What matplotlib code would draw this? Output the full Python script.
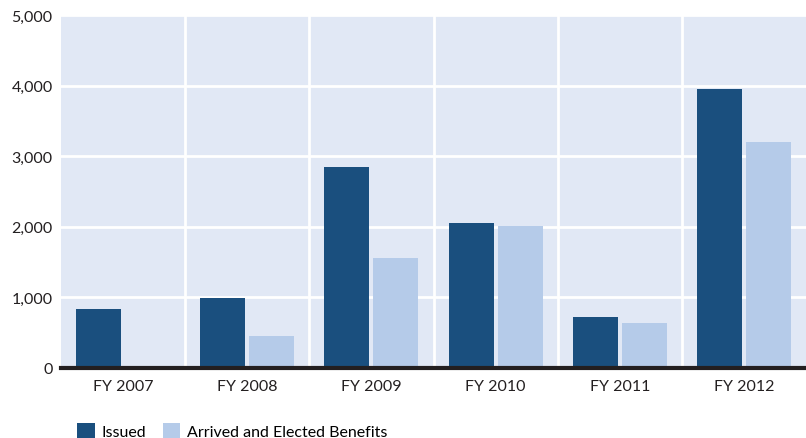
import matplotlib.pyplot as plt
import numpy as np

plt.rcParams['font.family'] = ['Lato', 'DejaVu Sans']

years = ['FY 2007', 'FY 2008', 'FY 2009', 'FY 2010', 'FY 2011', 'FY 2012']
issued = [837, 993, 2840, 2050, 720, 3945]
arrived = [12, 454, 1565, 2005, 635, 3195]

dark = '#1a4f7e'
light = '#b5cbe9'

fig = plt.figure(figsize=(8.06, 4.39), dpi=100)
ax = fig.add_axes([61/806, 1-369/439, 745/806, 353/439])
ax.set_facecolor('#e1e8f5')

x = np.arange(len(years))
w = 0.362
gap = 0.032
ax.bar(x - w/2 - gap/2, issued, w, color=dark, label='Issued', zorder=3)
ax.bar(x + w/2 + gap/2, arrived, w, color=light, label='Arrived and Elected Benefits', zorder=3)

ax.set_xlim(-0.5, len(years) - 0.5)
ax.set_ylim(0, 5000)
ax.set_yticks(range(0, 5001, 1000))
ax.set_yticklabels([f'{v:,}' for v in range(0, 5001, 1000)])
ax.set_xticks(x)
ax.set_xticklabels(years)

# white grid lines, vertical ones between categories
for v in range(1000, 5001, 1000):
    ax.axhline(v, color='white', lw=2, zorder=1)
for b in np.arange(0.5, len(years) - 0.5, 1):
    ax.axvline(b, color='white', lw=2, zorder=1)
ax.axhline(0, color='#231f20', lw=3, zorder=4, clip_on=False)

for s in ax.spines.values():
    s.set_visible(False)
ax.tick_params(length=0, labelsize=11.5, colors='#231f20')
ax.tick_params(axis='x', pad=8)
ax.tick_params(axis='y', pad=6)

fig.legend(loc='lower left', bbox_to_anchor=(0.078, -0.035), ncol=2, frameon=False,
           fontsize=11.5, handlelength=1.1, handleheight=1.1, columnspacing=1.0,
           handletextpad=0.45)

fig.savefig('out.png', dpi=100)
